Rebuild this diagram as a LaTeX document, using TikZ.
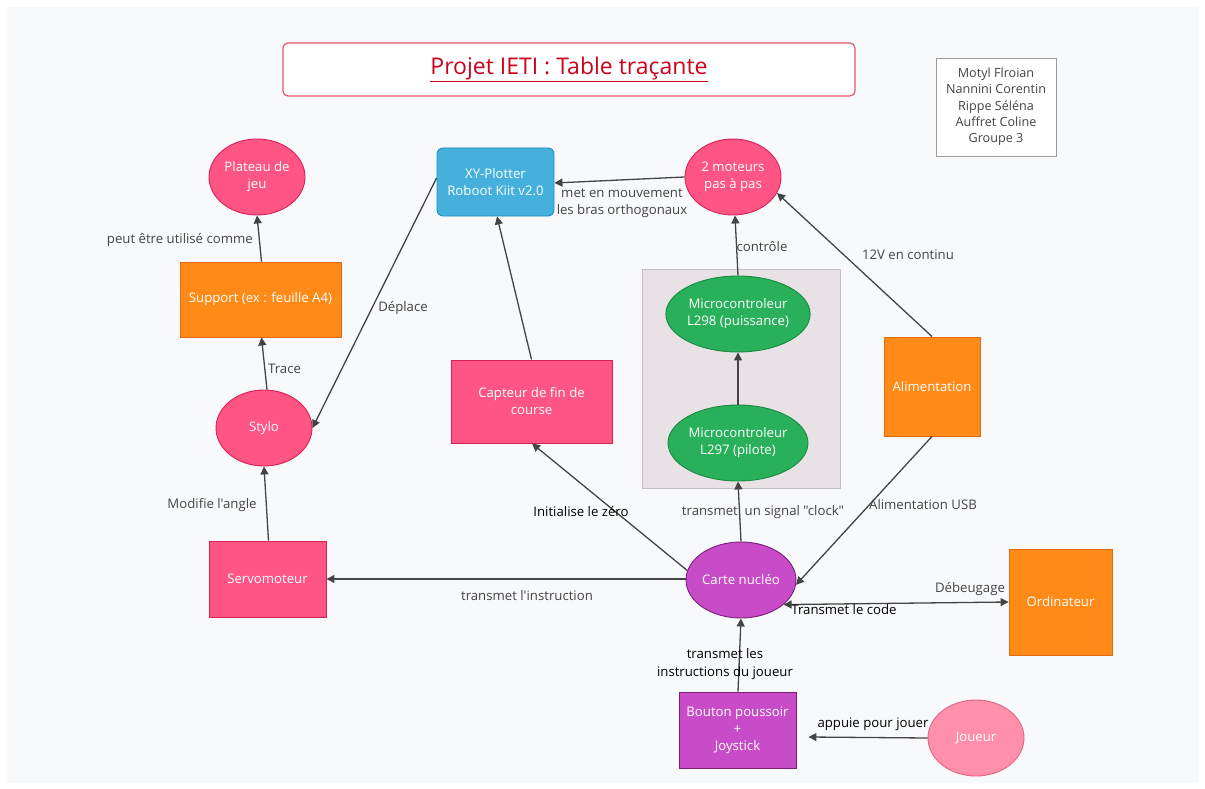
\documentclass[tikz,border=0pt]{standalone}
\usepackage{fontspec}
\setmainfont{Open Sans}[Ligatures=TeXOff]
\usetikzlibrary{shapes.geometric,arrows.meta}
\definecolor{bgc}{HTML}{F8F9FB}
\definecolor{pinkf}{HTML}{FF5585}
\definecolor{pinkd}{HTML}{D8205A}
\definecolor{orgf}{HTML}{FF8A17}
\definecolor{orgd}{HTML}{E06A10}
\definecolor{bluef}{HTML}{45B0DC}
\definecolor{blued}{HTML}{1E8EC0}
\definecolor{grnf}{HTML}{28B05A}
\definecolor{grnd}{HTML}{1A8A40}
\definecolor{purf}{HTML}{C84CC8}
\definecolor{purd}{HTML}{7A1F7A}
\definecolor{lpinkf}{HTML}{FF8FAB}
\definecolor{lpinkd}{HTML}{E06585}
\definecolor{grpf}{HTML}{E8E2E6}
\definecolor{grpd}{HTML}{C4C0C2}
\definecolor{edgec}{HTML}{444444}
\definecolor{labc}{HTML}{444444}
\definecolor{titc}{HTML}{D0021B}
\definecolor{titd}{HTML}{E05A6A}
\begin{document}
\begin{tikzpicture}[x=1pt,y=-1pt,
  nodetxt/.style={text=white,font=\fontsize{13.2}{17}\selectfont,align=center,inner sep=0pt},
  ell/.style={nodetxt,ellipse,draw,line width=0.9pt,minimum width=96pt,minimum height=76pt},
  pinkell/.style={ell,fill=pinkf,draw=pinkd},
  pinkbox/.style={nodetxt,rectangle,draw=pinkd,fill=pinkf,line width=0.9pt},
  orgbox/.style={nodetxt,rectangle,draw=orgd,fill=orgf,line width=0.9pt},
  greenell/.style={ell,fill=grnf,draw=grnd,minimum width=120pt},
  lab/.style={text=labc,font=\fontsize{13.2}{17.5}\selectfont,align=center,inner sep=0pt},
  blab/.style={lab,text=black},
  conn/.style={draw=edgec,line width=1.3pt,-{Triangle[length=8pt,width=8pt]}},
  bconn/.style={draw=edgec,line width=1.3pt,{Triangle[length=8pt,width=8pt]}-{Triangle[length=8pt,width=8pt]}}
]
\useasboundingbox (0,0) rectangle (1205,789);
\fill[white] (0,0) rectangle (1205,789);
\fill[bgc] (7,7) rectangle (1199,783);

% title
\node[draw=titd,fill=white,line width=1.2pt,rounded corners=5pt,minimum width=572pt,minimum height=53pt,inner sep=0pt,
  text=titc,font=\fontsize{23}{26}\selectfont] (title) at (569,69.5) {\underline{Projet IETI : Table traçante}};

% authors
\node[draw=grpd!80!black,fill=white,line width=0.9pt,minimum width=120pt,minimum height=98pt,inner sep=0pt,
  text=labc,font=\fontsize{12.6}{16.3}\selectfont,align=center] (names) at (996,107)
  {Motyl Flroian\\Nannini Corentin\\Rippe Séléna\\Auffret Coline\\Groupe 3};

% group box
\node[draw=grpd,fill=grpf,line width=0.9pt,minimum width=198pt,minimum height=219pt,inner sep=0pt] (grp) at (741,378.5) {};

% nodes
\node[pinkell] (plateau) at (257,177) {Plateau de\\jeu};
\node[orgbox,minimum width=161pt,minimum height=75pt] (support) at (260.5,299.5) {Support (ex : feuille A4)};
\node[pinkell] (stylo) at (264,428) {Stylo};
\node[pinkbox,minimum width=117pt,minimum height=76pt] (servo) at (267.5,579) {Servomoteur};
\node[nodetxt,rectangle,rounded corners=6pt,draw=blued,fill=bluef,line width=0.9pt,minimum width=117pt,minimum height=68pt] (xy) at (495.5,182) {XY-Plotter\\Roboot Kiit v2.0};
\node[pinkbox,minimum width=161pt,minimum height=83pt] (capteur) at (531.5,401.5) {Capteur de fin de\\course};
\node[pinkell] (moteurs) at (733,177) {2 moteurs\\pas à pas};
\node[greenell] (l298) at (738,314) {Microcontroleur\\L298 (puissance)};
\node[greenell] (l297) at (738,443) {Microcontroleur\\L297 (pilote)};
\node[orgbox,minimum width=96pt,minimum height=99pt] (alim) at (932,386.5) {Alimentation};
\node[ell,fill=purf,draw=purd] (carte) at (741,580) {Carte nucléo};
\node[orgbox,minimum width=103pt,minimum height=106pt] (ordi) at (1060.5,602) {Ordinateur};
\node[nodetxt,rectangle,draw=purd,fill=purf,line width=0.9pt,minimum width=117pt,minimum height=76pt] (bouton) at (737.5,730) {Bouton poussoir\\+\\Joystick};
\node[ell,fill=lpinkf,draw=lpinkd] (joueur) at (976,738) {Joueur};

% connectors
\draw[conn] (support.north) ++(1,0) coordinate (a1) -- (plateau.south);
\node[lab,anchor=east] (l1) at (253,240) {peut être utilisé comme};

\draw[conn] (stylo.north) ++(3,0) -- ([xshift=1pt]support.south);
\node[lab,anchor=west] (l2) at (268,369) {Trace};

\draw[conn] ([yshift=4pt]xy.west) -- (stylo.east);
\node[lab] (l3) at (403,308) {Déplace};

\draw[conn] ([xshift=1pt]servo.north) -- (stylo.south);
\node[lab] (l4) at (212,505) {Modifie l'angle};

\draw[conn] (capteur.north) -- ([xshift=1.5pt]xy.south);

\draw[conn] (moteurs.west) -- ([yshift=-1pt]xy.east);
\node[lab] (l5) at (622,203) {met en mouvement\\ les bras orthogonaux};

\draw[conn] (l298.north) -- ([xshift=2pt]moteurs.south);
\node[lab] (l6) at (762,247) {contrôle};

\draw[conn] (l297.north) -- (l298.south);

\draw[conn] ([xshift=0pt]alim.north) -- (moteurs.-20);
\node[lab] (l7) at (908,255) {12V en continu};

\draw[conn] (carte.north) -- (l297.south);
\node[lab] (l8) at (763,512) {transmet \ un signal "clock"};

\draw[conn] (carte.170) -- ([xshift=0.5pt]capteur.south);
\node[blab] (l9) at (581,512) {Initialise le zéro};

\draw[conn] (carte.west) ++(0,-1) -- ([yshift=0pt]servo.east);
\node[lab] (l10) at (527,596) {transmet l'instruction};

\draw[conn] (alim.south) -- (carte.-5);
\node[lab] (l11) at (923,505) {Alimentation USB};

\draw[bconn] (carte.-30) -- (ordi.west);
\node[lab] (l12) at (970,589) {Débeugage};
\node[blab] (l13) at (844,610) {Transmet le code};

\draw[conn] ([xshift=0.5pt]bouton.north) -- (carte.south);
\node[blab] (l14) at (725,664) {transmet les\\instructions du joueur};

\draw[conn] (joueur.west) -- ([xshift=12pt,yshift=-7pt]bouton.east);
\node[blab] (l15) at (873,724) {appuie pour jouer};
\end{tikzpicture}
\end{document}
